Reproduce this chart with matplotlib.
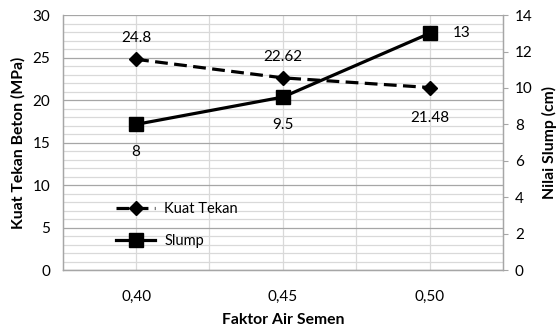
import numpy as np
import matplotlib
matplotlib.use("Agg")
import matplotlib.pyplot as plt
from matplotlib.ticker import MultipleLocator

plt.rcParams["font.family"] = ["Lato", "DejaVu Sans"]

# ── data ─────────────────────────────────────────────────────────────────────
fas_labels = ["0,40", "0,45", "0,50"]
kuat_tekan = [24.8, 22.62, 21.48]   # MPa
slump = [8, 9.5, 13]                # cm

# ── plot ─────────────────────────────────────────────────────────────────────
fig = plt.figure(figsize=(5.58, 3.28), dpi=100)
ax = fig.add_axes([0.1124, 0.1768, 0.789, 0.777])
ax2 = ax.twinx()

x = np.arange(len(fas_labels))
major_c, minor_c = "#a6a6a6", "#d9d9d9"
fs = 11

ax.set_xlim(-0.5, len(fas_labels) - 0.5)
ax.set_ylim(0, 30)
ax2.set_ylim(0, 14)

# grid
ax.yaxis.set_major_locator(MultipleLocator(5))
ax.yaxis.set_minor_locator(MultipleLocator(1))
ax.grid(which="major", axis="y", color=major_c, lw=0.9)
ax.grid(which="minor", axis="y", color=minor_c, lw=0.9)
for xv in np.arange(0, len(fas_labels) - 0.5, 0.5):
    ax.axvline(xv, color=minor_c, lw=0.9, zorder=0.5)
ax.set_axisbelow(True)

ln1, = ax.plot(x, kuat_tekan, color="black", lw=2.3, dashes=(4, 2),
               marker="D", ms=7, label="Kuat Tekan", zorder=3)
ln2, = ax2.plot(x, slump, color="black", lw=2.3, marker="s", ms=9.5,
                label="Slump", zorder=3)

# data labels
kt_off = [(0, 15), (0, 15), (0, -22)]
for xi, v, off in zip(x, kuat_tekan, kt_off):
    ax.annotate(f"{v:g}", (xi, v), xytext=off, textcoords="offset points",
                ha="center", va="center", fontsize=fs)
sl_off = [(0, -20), (0, -20), (23, 0)]
for xi, v, off in zip(x, slump, sl_off):
    ax2.annotate(f"{v:g}", (xi, v), xytext=off, textcoords="offset points",
                 ha="center", va="center", fontsize=fs)

# axes styling
ax.set_xticks(x)
ax.set_xticklabels(fas_labels, fontsize=fs)
ax.tick_params(axis="x", length=0, pad=14)
ax.tick_params(axis="y", which="both", length=0, pad=9, labelsize=fs)
ax2.yaxis.set_major_locator(MultipleLocator(2))
ax2.tick_params(axis="y", length=3.6, color=major_c, pad=5, labelsize=fs)

for a in (ax, ax2):
    for s in a.spines.values():
        s.set_color(major_c)
        s.set_linewidth(0.9)
    a.spines["top"].set_visible(False)

ax.set_xlabel("Faktor Air Semen", fontsize=11.3, fontweight="bold", labelpad=7)
ax.set_ylabel("Kuat Tekan Beton (MPa)", fontsize=11.3, fontweight="bold", labelpad=5)
ax2.set_ylabel("Nilai Slump (cm)", fontsize=11.3, fontweight="bold", labelpad=7)

ax2.legend(handles=[ln1, ln2], loc="upper left", bbox_to_anchor=(0.121, 0.265),
           frameon=False, fontsize=10.5, borderpad=0, borderaxespad=0,
           handlelength=2.7, handletextpad=0.6, labelspacing=1.2)

fig.savefig("out.png", dpi=100)
